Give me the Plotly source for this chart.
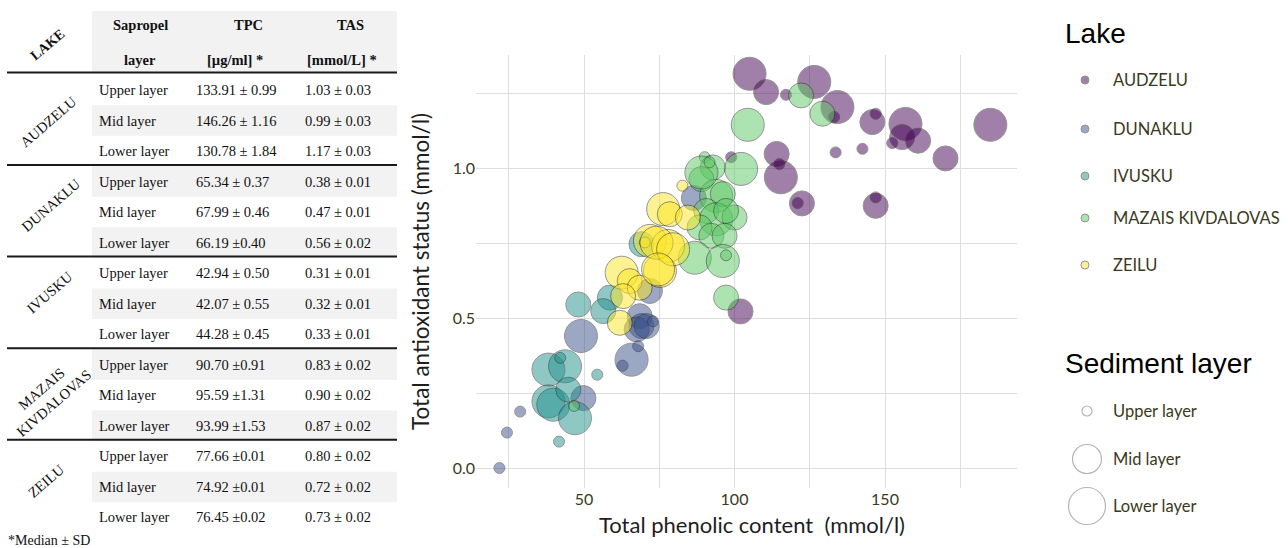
import plotly.graph_objects as go

W, H = 1288, 548

# ---------------- scatter data ----------------
lakes = ["AUDZELU", "DUNAKLU", "IVUSKU", "MAZAIS KIVDALOVAS", "ZEILU"]
lake_colors = ["#440154", "#3b528b", "#21908c", "#5dc863", "#fde725"]

audzelu_tpc = [105.0, 110.5, 117.1, 126.5, 134.2, 133.1, 145.8, 146.9, 156.8, 155.7, 161.0, 152.4, 133.6,
               142.5, 170.1, 185.0, 114.0, 115.4, 114.9, 122.4, 121.0, 146.9, 146.9, 98.9, 102.0]
audzelu_tas = [1.314, 1.253, 1.244, 1.287, 1.203, 1.170, 1.153, 1.181, 1.147, 1.103, 1.091, 1.083, 1.052,
               1.064, 1.032, 1.144, 1.047, 0.969, 1.013, 0.882, 0.883, 0.874, 0.902, 1.036, 0.522]
audzelu_layer = ["L", "M", "U", "L", "L", "U", "M", "U", "L", "M", "M", "U", "U",
                 "U", "M", "L", "M", "L", "U", "M", "U", "M", "U", "U", "M"]

dunaklu_tpc = [86.5, 71.9, 68.5, 69.1, 67.5, 70.8, 49.0, 65.8, 62.8, 68.0, 49.8, 28.8, 24.4, 21.9, 72.9]
dunaklu_tas = [0.900, 0.590, 0.506, 0.473, 0.462, 0.473, 0.440, 0.361, 0.341, 0.406, 0.233, 0.188, 0.118, 0.000, 0.489]
dunaklu_layer = ["M", "M", "M", "M", "M", "M", "L", "L", "U", "U", "M", "U", "U", "U", "U"]

ivusku_tpc = [69.1, 58.6, 48.1, 56.4, 54.4, 38.2, 43.7, 42.1, 38.2, 39.8, 44.8, 47.0, 41.7]
ivusku_tas = [0.746, 0.568, 0.545, 0.523, 0.311, 0.328, 0.339, 0.367, 0.222, 0.211, 0.261, 0.166, 0.088]
ivusku_layer = ["M", "M", "M", "M", "U", "L", "L", "U", "L", "L", "M", "L", "U"]

mazais_tpc = [122.1, 129.2, 104.4, 102.2, 90.1, 92.8, 89.0, 93.9, 96.1, 90.6, 93.9, 100.0, 97.2, 88.4,
              92.3, 96.7, 86.8, 96.1, 97.2, 97.2, 46.7, 89.0, 91.7]
mazais_tas = [1.242, 1.181, 1.144, 0.997, 1.036, 1.002, 0.963, 0.907, 0.913, 0.857, 0.829, 0.835, 0.857, 0.802,
              0.774, 0.774, 0.701, 0.690, 0.709, 0.568, 0.207, 0.985, 1.019]
mazais_layer = ["M", "M", "L", "L", "U", "M", "M", "L", "M", "M", "L", "M", "M", "M",
                "M", "M", "L", "L", "U", "M", "U", "L", "U"]

zeilu_tpc = [82.7, 76.3, 78.5, 84.5, 71.9, 77.9, 70.2, 75.2, 62.5, 65.2, 68.5, 63.0, 61.9, 74.1, 79.6, 74.6]
zeilu_tas = [0.941, 0.863, 0.846, 0.835, 0.757, 0.740, 0.752, 0.657, 0.651, 0.623, 0.601, 0.573, 0.484,
             0.751, 0.729, 0.662]
zeilu_layer = ["U", "L", "M", "M", "L", "L", "U", "L", "L", "M", "M", "M", "M", "L", "L", "L"]

layer_codes = ["U", "M", "L"]
layer_names = ["Upper layer", "Mid layer", "Lower layer"]

x_ticks = [25, 50, 75, 100, 125, 150, 175]
x_ticktext = ["", "50", "", "100", "", "150", ""]
y_ticks = [0.0, 0.25, 0.5, 0.75, 1.0, 1.25]
y_ticktext = ["0.0", "", "0.5", "", "1.0", ""]

# ---------------- table data ----------------
table_header_top = ["Sapropel", "TPC", "TAS"]
table_header_bottom = ["layer", "[µg/ml] *", "[mmol/L] *"]
table_lakes = ["AUDZELU", "DUNAKLU", "IVUSKU", "MAZAIS<br>KIVDALOVAS", "ZEILU"]
table_layers = ["Upper layer", "Mid layer", "Lower layer"]
table_tpc = [["133.91 ± 0.99", "146.26 ± 1.16", "130.78 ± 1.84"],
             ["65.34 ± 0.37", "67.99 ± 0.46", "66.19 ±0.40"],
             ["42.94 ± 0.50", "42.07 ± 0.55", "44.28 ± 0.45"],
             ["90.70 ±0.91", "95.59 ±1.31", "93.99 ±1.53"],
             ["77.66 ±0.01", "74.92 ±0.01", "76.45 ±0.02"]]
table_tas = [["1.03 ± 0.03", "0.99 ± 0.03", "1.17 ± 0.03"],
             ["0.38 ± 0.01", "0.47 ± 0.01", "0.56 ± 0.02"],
             ["0.31 ± 0.01", "0.32 ± 0.01", "0.33 ± 0.01"],
             ["0.83 ± 0.02", "0.90 ± 0.02", "0.87 ± 0.02"],
             ["0.80 ± 0.02", "0.72 ± 0.02", "0.73 ± 0.02"]]
table_note = "*Median ± SD"

# ---------------- styles ----------------
size_map = {"U": 11, "M": 25, "L": 33}
TICK_COL = "#3a3a1c"
SERIF = "Liberation Serif"
SANS_C = "Lato"


def PX(x):
    return x / W


def PY(y):
    return 1 - y / H


fig = go.Figure()

series = [
    (audzelu_tpc, audzelu_tas, audzelu_layer),
    (dunaklu_tpc, dunaklu_tas, dunaklu_layer),
    (ivusku_tpc, ivusku_tas, ivusku_layer),
    (mazais_tpc, mazais_tas, mazais_layer),
    (zeilu_tpc, zeilu_tas, zeilu_layer),
]
for name, col, (xs, ys, ls) in zip(lakes, lake_colors, series):
    fig.add_trace(go.Scatter(
        x=xs, y=ys, mode="markers", name=name, showlegend=False,
        marker=dict(size=[size_map[l] for l in ls], color=col, opacity=0.5,
                    line=dict(color="#2b2b2b", width=1)),
    ))

# main plot area in pixels
PL, PR, PT, PB = 476, 1017, 55, 488
x_per = 3.01
y_per = 300.0
x_range = [50 - (584 - PL) / x_per, 50 + (PR - 584) / x_per]
y_range = [-(PB - 468) / y_per, (468 - PT) / y_per]

fig.update_layout(
    width=W, height=H,
    margin=dict(l=0, r=0, t=0, b=0),
    paper_bgcolor="white", plot_bgcolor="white",
    xaxis=dict(domain=[PX(PL), PX(PR)], range=x_range, tickvals=x_ticks, ticktext=x_ticktext,
               showgrid=True, gridcolor="#dedede", gridwidth=1.2, zeroline=False, showline=False,
               ticks="", tickfont=dict(family=SANS_C, size=16, color=TICK_COL), automargin=False),
    yaxis=dict(domain=[1 - PB / H, 1 - PT / H], range=y_range, tickvals=y_ticks, ticktext=y_ticktext,
               showgrid=True, gridcolor="#dedede", gridwidth=1.2, zeroline=False, showline=False,
               ticks="", tickfont=dict(family=SANS_C, size=16, color=TICK_COL), automargin=False),
)

shapes = []
ann = []

# axis titles
ann.append(dict(x=PX(752), y=PY(524), xref="paper", yref="paper", text="Total phenolic content  (mmol/l)",
                showarrow=False, font=dict(family=SANS_C, size=22, color="#1e1e1e"),
                xanchor="center", yanchor="middle"))
ann.append(dict(x=PX(420), y=PY(272), xref="paper", yref="paper", text="Total antioxidant status (mmol/l)",
                showarrow=False, textangle=-90, font=dict(family=SANS_C, size=22.5, color="#1e1e1e"),
                xanchor="center", yanchor="middle"))

# ---------------- legends ----------------
ann.append(dict(x=PX(1063), y=PY(33), xref="paper", yref="paper", text="Lake", showarrow=False,
                font=dict(family="Liberation Sans", size=28, color="black"), xanchor="left", yanchor="middle"))
lake_leg_y = [80, 129, 176, 218, 265]
for name, col, yy in zip(lakes, lake_colors, lake_leg_y):
    r = 4
    shapes.append(dict(type="circle", xref="paper", yref="paper",
                       x0=PX(1085 - r), x1=PX(1085 + r), y0=PY(yy + r), y1=PY(yy - r),
                       fillcolor=col, opacity=0.5, line=dict(color="#2b2b2b", width=1)))
    ann.append(dict(x=PX(1111), y=PY(yy), xref="paper", yref="paper", text=name, showarrow=False,
                    font=dict(family=SANS_C, size=16.5, color=TICK_COL), xanchor="left", yanchor="middle"))

ann.append(dict(x=PX(1063), y=PY(363), xref="paper", yref="paper", text="Sediment layer", showarrow=False,
                font=dict(family="Liberation Sans", size=28, color="black"), xanchor="left", yanchor="middle"))
sed_leg_y = [411, 459, 506]
sed_leg_d = [10, 29, 37]
for name, yy, d in zip(layer_names, sed_leg_y, sed_leg_d):
    r = d / 2
    shapes.append(dict(type="circle", xref="paper", yref="paper",
                       x0=PX(1087 - r), x1=PX(1087 + r), y0=PY(yy + r), y1=PY(yy - r),
                       fillcolor="rgba(0,0,0,0)", line=dict(color="#b5b5b5", width=1.2)))
    ann.append(dict(x=PX(1111), y=PY(yy), xref="paper", yref="paper", text=name, showarrow=False,
                    font=dict(family=SANS_C, size=16.5, color=TICK_COL), xanchor="left", yanchor="middle"))

# ---------------- table ----------------
TL, TR = 7, 397
GL = 92
ROW0, ROWH, BLOCKH = 90, 30.5, 91.6

# header background
shapes.append(dict(type="rect", xref="paper", yref="paper", x0=PX(GL), x1=PX(TR), y0=PY(72), y1=PY(11),
                   fillcolor="#f2f2f2", line=dict(width=0), layer="below"))
ridx = 0
for k in range(5):
    for j in range(3):
        cy = ROW0 + BLOCKH * k + ROWH * j
        if ridx % 2 == 1:
            shapes.append(dict(type="rect", xref="paper", yref="paper", x0=PX(GL), x1=PX(TR),
                               y0=PY(cy + ROWH / 2), y1=PY(cy - ROWH / 2),
                               fillcolor="#f2f2f2", line=dict(width=0), layer="below"))
        ridx += 1

# rules
rule_y = [72.5] + [ROW0 + BLOCKH * k + 75 for k in range(4)]
for yy in rule_y:
    shapes.append(dict(type="line", xref="paper", yref="paper", x0=PX(TL), x1=PX(TR), y0=PY(yy), y1=PY(yy),
                       line=dict(color="#1a1a1a", width=2)))

# header text
hdr_x_top = [140, 248, 350]
hdr_x_bot = [140, 235, 342]
for t, xx in zip(table_header_top, hdr_x_top):
    ann.append(dict(x=PX(xx), y=PY(25), xref="paper", yref="paper", text="<b>%s</b>" % t, showarrow=False,
                    font=dict(family=SERIF, size=14.5, color="#111"), xanchor="center", yanchor="middle"))
for t, xx in zip(table_header_bottom, hdr_x_bot):
    ann.append(dict(x=PX(xx), y=PY(60), xref="paper", yref="paper", text="<b>%s</b>" % t, showarrow=False,
                    font=dict(family=SERIF, size=14.5, color="#111"), xanchor="center", yanchor="middle"))
ann.append(dict(x=PX(48), y=PY(45), xref="paper", yref="paper", text="<b>LAKE</b>", showarrow=False,
                textangle=-40, font=dict(family=SERIF, size=14, color="#111"), xanchor="center", yanchor="middle"))

lake_label_pos = [(48, 122), (51, 205), (50, 292), (47, 396), (46, 481)]
for k in range(5):
    lx, ly = lake_label_pos[k]
    ann.append(dict(x=PX(lx), y=PY(ly), xref="paper", yref="paper", text=table_lakes[k], showarrow=False,
                    textangle=-41, font=dict(family=SERIF, size=14.5, color="#111"),
                    xanchor="center", yanchor="middle"))
    for j in range(3):
        cy = ROW0 + BLOCKH * k + ROWH * j
        for txt, xx in ((table_layers[j], 97), (table_tpc[k][j], 194), (table_tas[k][j], 303)):
            ann.append(dict(x=PX(xx), y=PY(cy), xref="paper", yref="paper", text=txt, showarrow=False,
                            font=dict(family=SERIF, size=14.5, color="#111"),
                            xanchor="left", yanchor="middle"))

ann.append(dict(x=PX(6), y=PY(540), xref="paper", yref="paper", text=table_note, showarrow=False,
                font=dict(family=SERIF, size=14, color="#111"), xanchor="left", yanchor="middle"))

fig.update_layout(shapes=shapes, annotations=ann)
fig.write_html("out.html", config={"displayModeBar": False},
               post_script="document.body.style.margin='0px';")
